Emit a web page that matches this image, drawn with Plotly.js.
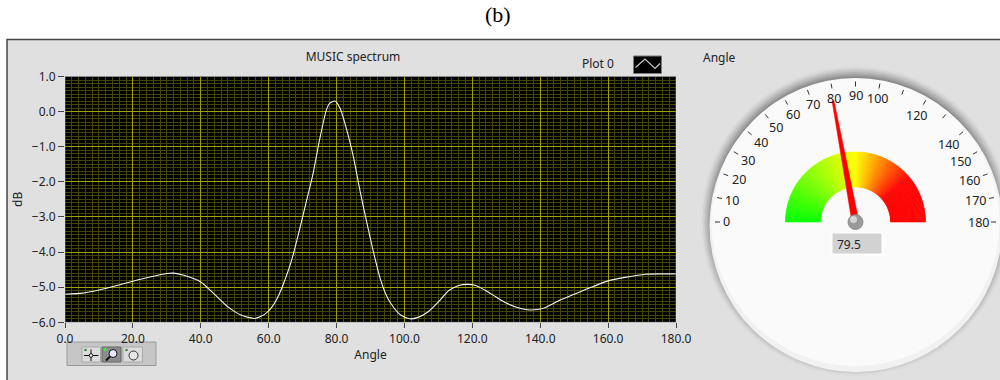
<!DOCTYPE html>
<html><head><meta charset="utf-8">
<script src="https://cdn.plot.ly/plotly-3.0.1.min.js"></script>
<style>html,body{margin:0;padding:0;background:#fff}#chart{width:1000px;height:380px}</style>
</head><body><div id="chart"></div>
<script>
// ---- data ----
const angles = [0,5,10,15,20,25,30,32,35,40,44,48,52,56,59,61,63,65,67,69,71,73,75,77,78,79.5,81,83,85,87,89,91,93,95,97,99,101.5,104,107,110,113,116,118.5,121,124,127,130,134,137,141,146,150,155,160,165,171,176,180];
const dB = [-5.2,-5.17,-5.08,-4.96,-4.83,-4.71,-4.61,-4.6,-4.66,-4.85,-5.2,-5.56,-5.8,-5.89,-5.76,-5.56,-5.22,-4.74,-4.15,-3.4,-2.6,-1.8,-0.8,0.05,0.24,0.3,0.1,-0.52,-1.3,-2.3,-3.2,-4.05,-4.8,-5.3,-5.6,-5.8,-5.9,-5.86,-5.7,-5.42,-5.1,-4.95,-4.92,-4.95,-5.1,-5.28,-5.45,-5.6,-5.65,-5.6,-5.36,-5.2,-5.0,-4.82,-4.72,-4.63,-4.62,-4.62];
const xTickValues = [0,20,40,60,80,100,120,140,160,180];
const yTickValues = [-6,-5,-4,-3,-2,-1,0,1];
const gaugeValue = 79.5;
const gaugeMin = 0, gaugeMax = 180;
const gaugeTickValues = [0,10,20,30,40,50,60,70,80,90,100,110,120,130,140,150,160,170,180];
const gaugeLabelValues = [0,10,20,30,40,50,60,70,80,90,100,120,140,150,160,170,180];

// ---- helpers ----
const W = 1000, H = 380;
const FONT = '"Noto Sans", "Open Sans", sans-serif';
const fx = x => x / W, fy = y => 1 - y / H;
const P = (x, y) => fx(x).toFixed(5) + ',' + fy(y).toFixed(5);
const poly = pts => 'M' + pts.map(p => P(p[0], p[1])).join('L') + 'Z';
const shapes = [], annotations = [];
function rect(x0, y0, x1, y1, fill, line, lw) {
  shapes.push({type:'rect', xref:'paper', yref:'paper', x0:fx(x0), x1:fx(x1), y0:fy(y1), y1:fy(y0),
    fillcolor:fill, line:{color:line || fill, width: lw === undefined ? 0 : lw}, layer:'below'});
}
function circle(cx, cy, r, fill, line, lw) {
  shapes.push({type:'circle', xref:'paper', yref:'paper', x0:fx(cx - r), x1:fx(cx + r), y0:fy(cy + r), y1:fy(cy - r),
    fillcolor:fill, line:{color:line || fill, width: lw || 0}, layer:'below'});
}
function path(d, fill, line, lw) {
  shapes.push({type:'path', xref:'paper', yref:'paper', path:d, fillcolor:fill || 'rgba(0,0,0,0)',
    line:{color:line || fill, width: lw === undefined ? 0 : lw}, layer:'below'});
}
function text(x, y, t, size, color, anchor, family) {
  annotations.push({xref:'paper', yref:'paper', x:fx(x), y:fy(y), text:t, showarrow:false,
    xanchor:anchor || 'center', yanchor:'middle', borderpad:0,
    font:{family:family || FONT, size:size, color:color || '#222'}});
}

// ---- panel ----
rect(7, 39.5, 1003, 383, '#e0e0e0', '#454545', 1.5);

// ---- legend box ----
text(598, 64, 'Plot 0', 12, '#222');
rect(633.5, 56, 661.5, 73.5, '#000000', '#7a7a7a', 1);
path('M' + [[635.5,67.5],[645,59],[655,68.5],[660,63.5]].map(p => P(p[0], p[1])).join('L'), null, '#c8c8c8', 1.2);

// ---- graph palette ----
rect(67, 342, 156, 365.5, '#c6c6c6', '#9a9a9a', 1);
rect(82, 347, 100.5, 362, '#dcdcdc', '#a8a8a8', 1);
rect(102, 347, 121, 362, '#8c8c8c', '#666666', 1);
rect(123, 347, 142.5, 362, '#dcdcdc', '#a8a8a8', 1);
path('M' + P(84, 355.5) + 'L' + P(98.5, 355.5) + 'M' + P(91, 349.5) + 'L' + P(91, 361), null, '#111', 1);
circle(91, 355.5, 1.8, '#ffffff', '#111', 1);
circle(85.5, 350, 1.3, '#3a8a3a');
circle(105, 349.5, 1.4, '#30ff30');
path('M' + P(106, 360.5) + 'L' + P(110, 356.5), null, '#111', 2);
circle(113, 353.5, 4, '#e8e8ff', '#111', 1);
circle(126.5, 350, 1.3, '#3a8a3a');
circle(133.5, 355.5, 4.5, '#e6e6e6', '#333', 1);

// ---- gauge ----
const GX = 855.5, GY = 222;
const ang = v => Math.PI * (1 - (v - gaugeMin) / (gaugeMax - gaugeMin));
const pt = (v, r) => [GX + r * Math.cos(ang(v)), GY - r * Math.sin(ang(v))];
text(702, 57, 'Angle', 12, '#222', 'left');
[[155,'#dcdcdc'],[153,'#d0d0d0'],[151,'#c2c2c2'],[149,'#b2b2b2'],[147,'#a0a0a0'],[145,'#8e8e8e']]
  .forEach(([r, c]) => circle(GX, GY - 1, r, c));
circle(GX + 0.5, GY + 3.5, 146.5, '#f1f1f1');
circle(GX, GY, 144, '#fafafa');
// colour band
function bandColor(v) {
  let r, g;
  if (v <= 90) { r = 255 * v / 90; g = 255; }
  else if (v <= 140) { r = 255; g = 255 * (1 - (v - 90) / 50); }
  else { r = 255; g = 0; }
  return 'rgb(' + Math.round(r) + ',' + Math.round(g) + ',0)';
}
for (let v = gaugeMin; v < gaugeMax; v += 1) {
  const c = bandColor(v + 0.5);
  path(poly([pt(v, 35), pt(v, 70), pt(v + 1, 70), pt(v + 1, 35)]), c, c, 0.6);
}
// ticks
let tickD = '';
gaugeTickValues.forEach(v => { const a = pt(v, 135.5), b = pt(v, 140.5); tickD += 'M' + P(a[0], a[1]) + 'L' + P(b[0], b[1]); });
path(tickD, null, '#333', 1);
gaugeLabelValues.forEach(v => {
  const s = String(v), t = ang(v);
  const hw = s.length * 3.5, hh = 6;
  const r = 133 - (hw * Math.abs(Math.cos(t)) + hh * Math.abs(Math.sin(t)));
  const p = pt(v, r);
  text(p[0], p[1], s, 12.5, '#222');
});
// needle
(function () {
  const t = ang(gaugeValue), nx = -Math.sin(t), ny = -Math.cos(t);
  const tip = pt(gaugeValue, 123), base = pt(gaugeValue, 0);
  const pts = [[base[0] + 3.5 * nx, base[1] + 3.5 * ny], [tip[0] + 1 * nx, tip[1] + 1 * ny],
               [tip[0] - 1 * nx, tip[1] - 1 * ny], [base[0] - 3.5 * nx, base[1] - 3.5 * ny]];
  path(poly(pts), '#ff0000', '#ff0000', 0.5);
})();
circle(GX, GY, 7.5, '#9a9a9a', '#808080', 0.8);
circle(GX - 2, GY - 2.5, 3.5, '#d4d4d4');
// digital display
rect(831.5, 232.5, 883.5, 255.5, '#ffffff');
rect(832.5, 233.5, 881.5, 253.5, '#d2d2d2');
text(836, 244, gaugeValue.toFixed(1), 12, '#222', 'left');

// ---- figure title ----
text(498, 14, '(b)', 22, '#000', 'center', '"Liberation Serif", "Times New Roman", serif');

// ---- plot area (data-referenced) ----
shapes.push({type:'rect', xref:'x', yref:'y', x0:0, x1:180, y0:-6, y1:1, fillcolor:'#000000', line:{width:0}, layer:'below'});
shapes.push({type:'rect', xref:'x', yref:'y', x0:0, x1:180, y0:-6, y1:1, fillcolor:'rgba(0,0,0,0)', line:{color:'#6a6a6a', width:1}, layer:'above'});

const tickFont = {family:FONT, size:12, color:'#222'};
const trace = {x:angles, y:dB, type:'scatter', mode:'lines', line:{color:'#f2f2f2', width:1.1, shape:'spline', smoothing:0.6}, hoverinfo:'x+y'};

const layout = {
  width:W, height:H, margin:{l:0, r:0, t:0, b:0},
  paper_bgcolor:'#ffffff', plot_bgcolor:'rgba(0,0,0,0)', showlegend:false,
  title:{text:'MUSIC spectrum', x:0.353, xanchor:'center', xref:'paper', y:1 - 57 / H, yanchor:'middle', yref:'container',
         font:{family:FONT, size:12, color:'#222'}},
  xaxis:{domain:[65 / W, 676 / W], range:[0, 180], tickvals:xTickValues, tickformat:'.1f',
         ticks:'outside', ticklen:5, tickcolor:'#444', tickfont:tickFont,
         showgrid:true, gridcolor:'#a0a000', gridwidth:1, zeroline:false, showline:false,
         minor:{tickmode:'linear', tick0:0, dtick:2, showgrid:true, gridcolor:'#45450a', gridwidth:1, ticks:''},
         title:{text:'Angle', font:{family:FONT, size:12, color:'#222'}, standoff:4}, fixedrange:true},
  yaxis:{domain:[(H - 322.3) / H, (H - 76.5) / H], range:[-6, 1], tickvals:yTickValues, tickformat:'.1f',
         ticks:'outside', ticklen:6, tickcolor:'#444', tickfont:tickFont,
         showgrid:true, gridcolor:'#a0a000', gridwidth:1, zeroline:false, showline:false,
         minor:{tickmode:'linear', tick0:0, dtick:0.1, showgrid:true, gridcolor:'#45450a', gridwidth:1, ticks:''},
         title:{text:'dB', font:{family:FONT, size:12, color:'#222'}, standoff:6}, fixedrange:true},
  shapes:shapes, annotations:annotations
};
Plotly.newPlot('chart', [trace], layout, {displayModeBar:false, staticPlot:true});
</script>
</body></html>
